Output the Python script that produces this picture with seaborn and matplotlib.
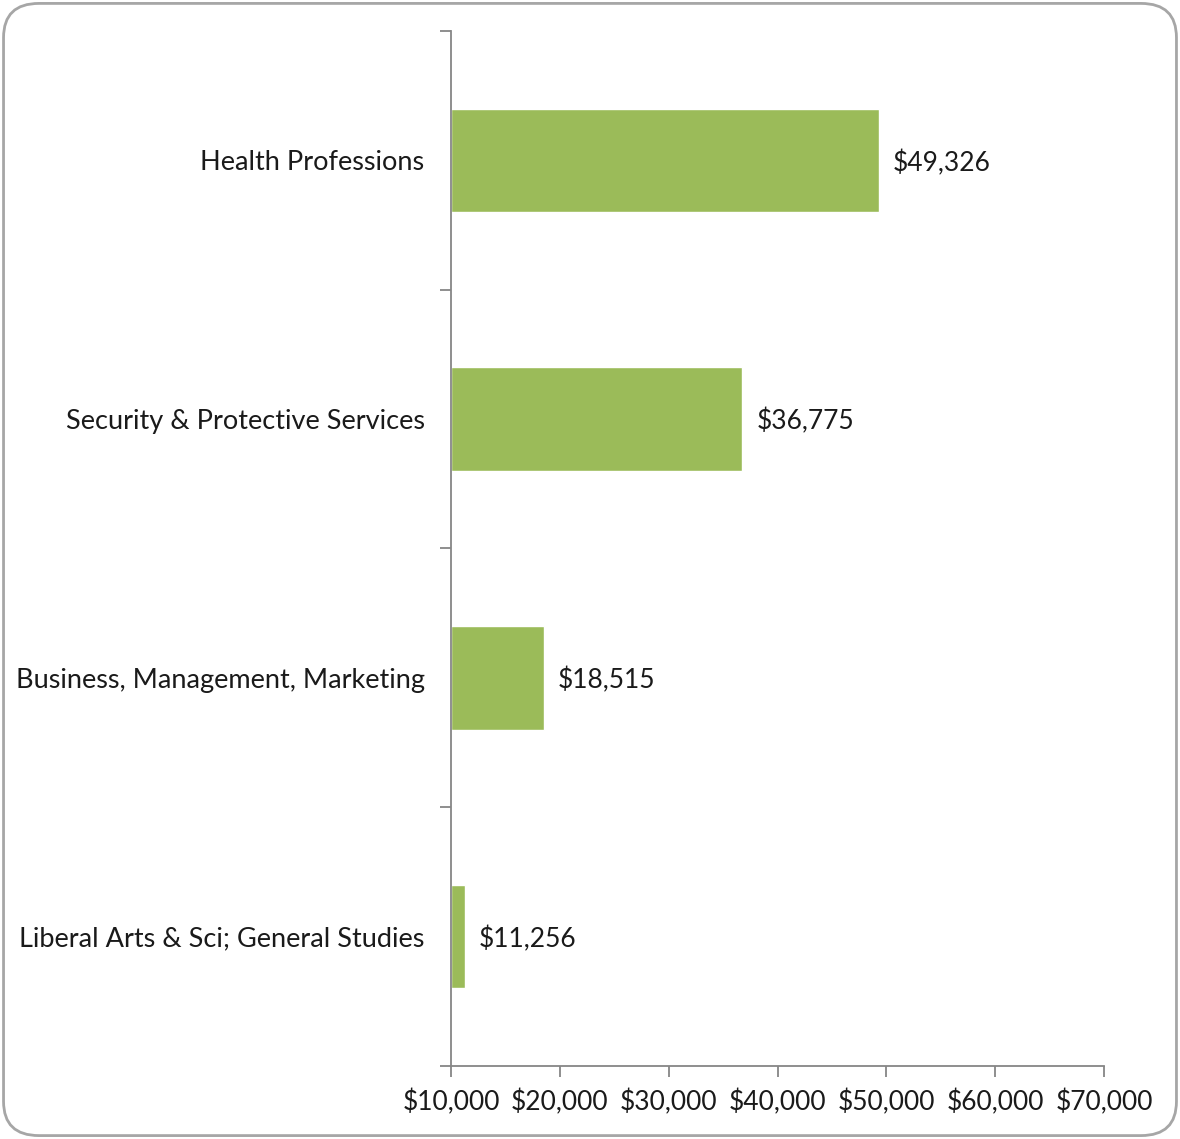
import matplotlib

matplotlib.use("Agg")
import matplotlib.pyplot as plt
import pandas as pd
import seaborn as sns
from matplotlib.patches import FancyBboxPatch
from matplotlib.ticker import FixedLocator, FuncFormatter

categories = [
    "Health Professions",
    "Security & Protective Services",
    "Business, Management, Marketing",
    "Liberal Arts & Sci; General Studies",
]
values = [49326, 36775, 18515, 11256]
x_ticks = [10000, 20000, 30000, 40000, 50000, 60000, 70000]

BASE = 10000
BAR_COLOR = "#9BBB59"
AXIS_GRAY = "#868686"
TEXT = "#1a1a1a"

df = pd.DataFrame({"category": categories, "value": values})
# bars start at the axis minimum, like the source chart
df["span"] = df["value"] - BASE

sns.set_theme(style="white")
plt.rcParams["font.family"] = ["Lato", "DejaVu Sans"]

fig = plt.figure(figsize=(11.8, 11.39), dpi=100)
ax = fig.add_axes([0.3822, 0.0641, 0.9356 - 0.3822, 0.9728 - 0.0641])

sns.barplot(
    data=df,
    x="span",
    y="category",
    left=BASE,
    color=BAR_COLOR,
    width=0.4,
    saturation=1,
    ax=ax,
    orient="h",
)

ax.set_xlim(10000, 70000)
ax.set_ylim(3.5, -0.5)
ax.set_xlabel("")
ax.set_ylabel("")

for i, v in enumerate(df["value"]):
    ax.text(v + 1300, i, f"${v:,.0f}", va="center_baseline", ha="left",
            fontsize=19, color=TEXT)

ax.xaxis.set_major_locator(FixedLocator(x_ticks))
ax.xaxis.set_major_formatter(FuncFormatter(lambda v, p: f"${v:,.0f}"))
ax.tick_params(axis="x", length=8, width=1.3, color=AXIS_GRAY, labelsize=19,
               labelcolor=TEXT, pad=9, direction="out", bottom=True)

ax.yaxis.set_minor_locator(FixedLocator([-0.5, 0.5, 1.5, 2.5, 3.5]))
ax.tick_params(axis="y", which="major", length=0, pad=19, labelsize=19.5, labelcolor=TEXT)
ax.tick_params(axis="y", which="minor", length=8, width=1.3, color=AXIS_GRAY,
               direction="out", left=True)

for side in ["top", "right"]:
    ax.spines[side].set_visible(False)
for side in ["left", "bottom"]:
    ax.spines[side].set_color(AXIS_GRAY)
    ax.spines[side].set_linewidth(1.3)

frame = FancyBboxPatch(
    (0.003, 0.003), 0.994, 0.994,
    boxstyle="round,pad=0,rounding_size=0.03",
    transform=fig.transFigure,
    facecolor="none",
    edgecolor="#A6A6A6",
    linewidth=2,
)
fig.patches.append(frame)

fig.savefig("out.png", dpi=100)
